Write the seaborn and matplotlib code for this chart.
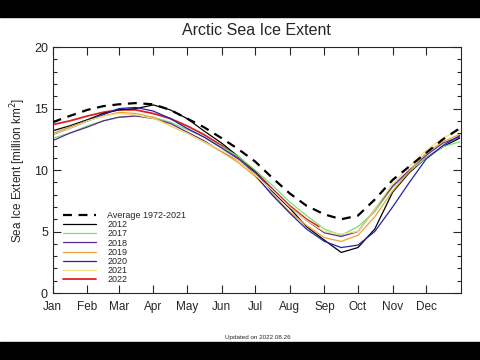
import numpy as np
import pandas as pd
import matplotlib.pyplot as plt
import matplotlib.patches as mpatches
import seaborn as sns

# day of year for the sampled points
days = [0, 15, 31, 45, 59, 74, 90, 105, 120, 135, 151, 166, 181,
        196, 212, 227, 243, 258, 273, 288, 304, 319, 334, 349, 364]

avg_1972_2021 = [13.9, 14.4, 14.9, 15.2, 15.35, 15.45, 15.35, 14.9, 14.2, 13.5, 12.6, 11.7, 10.7,
                 9.4, 8.1, 7.1, 6.4, 6.0, 6.3, 7.6, 9.2, 10.3, 11.4, 12.5, 13.4]
ext_2012 = [13.2, 13.6, 14.1, 14.6, 14.9, 15.0, 15.3, 14.9, 14.2, 13.2, 12.2, 11.1, 9.9,
            8.3, 6.9, 5.4, 4.3, 3.3, 3.7, 5.2, 8.2, 9.8, 11.0, 11.9, 12.6]
ext_2017 = [12.6, 13.0, 13.6, 14.0, 14.3, 14.4, 14.3, 13.9, 13.3, 12.7, 11.9, 11.1, 10.0,
            8.8, 7.4, 6.3, 5.2, 4.7, 5.4, 6.6, 8.6, 9.9, 11.0, 11.9, 12.3]
ext_2018 = [12.4, 13.0, 13.5, 14.0, 14.3, 14.4, 14.2, 13.8, 13.1, 12.4, 11.5, 10.8, 9.8,
            8.5, 7.0, 5.9, 4.9, 4.6, 5.0, 6.8, 8.7, 10.0, 11.2, 12.2, 12.7]
ext_2019 = [13.0, 13.5, 14.0, 14.4, 14.7, 14.6, 14.3, 13.6, 13.0, 12.3, 11.5, 10.6, 9.5,
            8.1, 6.6, 5.5, 4.5, 4.2, 4.7, 6.2, 8.3, 9.9, 11.4, 12.3, 12.9]
ext_2020 = [12.9, 13.4, 14.0, 14.5, 15.0, 15.1, 14.8, 14.2, 13.4, 12.7, 11.8, 10.9, 9.6,
            8.0, 6.5, 5.2, 4.2, 3.7, 3.9, 5.0, 7.0, 9.0, 10.9, 12.0, 12.8]
ext_2021 = [12.9, 13.4, 14.0, 14.4, 14.6, 14.5, 14.2, 13.6, 13.0, 12.3, 11.6, 10.8, 9.6,
            8.4, 7.0, 5.9, 5.0, 4.8, 5.0, 6.8, 8.9, 10.3, 11.6, 12.6, 13.3]
days_2022 = [0, 15, 31, 45, 59, 74, 90, 105, 120, 135, 151, 166, 181, 196, 212, 227, 238]
ext_2022 = [13.7, 14.0, 14.4, 14.7, 14.9, 14.9, 14.6, 14.2, 13.6, 12.9, 12.0, 11.0, 9.9,
            8.5, 7.1, 6.0, 5.4]

month_starts = [0, 31, 59, 90, 120, 151, 181, 212, 243, 273, 304, 334]
month_labels = ["Jan", "Feb", "Mar", "Apr", "May", "Jun",
                "Jul", "Aug", "Sep", "Oct", "Nov", "Dec"]

years = {
    "2012": (days, ext_2012, "black"),
    "2017": (days, ext_2017, "#77e077"),
    "2018": (days, ext_2018, "#5b2a8e"),
    "2019": (days, ext_2019, "#f0a030"),
    "2020": (days, ext_2020, "#2222aa"),
    "2021": (days, ext_2021, "#f2dc80"),
    "2022": (days_2022, ext_2022, "#e02020"),
}

sns.set_style("ticks")
plt.rcParams['font.family'] = ['Liberation Sans', 'DejaVu Sans']

fig = plt.figure(figsize=(4.8, 3.6), dpi=100)
ax = fig.add_axes([0.110, 0.186, 0.850, 0.683])

avg_df = pd.DataFrame({"day": days, "extent": avg_1972_2021})
sns.lineplot(data=avg_df, x="day", y="extent", ax=ax, color="black",
             linewidth=1.6, linestyle=(0, (4, 3)), label="Average 1972-2021", zorder=5)

for name, (d, v, c) in years.items():
    df = pd.DataFrame({"day": d, "extent": v})
    lw = 1.3 if name == "2022" else 0.9
    z = 1 if name == "2022" else 2
    sns.lineplot(data=df, x="day", y="extent", ax=ax, color=c,
                 linewidth=lw, label=name, zorder=z)

ax.set_xlim(0, 365)
ax.set_ylim(0, 20)
ax.set_xticks(month_starts)
ax.set_xticklabels(month_labels, fontsize=8.5)
ax.set_yticks([0, 5, 10, 15, 20])
ax.set_yticks(np.arange(0, 21, 1), minor=True)
ax.tick_params(axis="y", labelsize=9)
ax.tick_params(which="both", direction="in", top=True, right=True, width=0.8)
ax.tick_params(which="major", length=6)
ax.tick_params(which="minor", length=3)
ax.tick_params(axis="x", pad=6)
for s in ax.spines.values():
    s.set_linewidth(0.8)

ax.set_xlabel("")
ax.set_ylabel("Sea Ice Extent [million km$^2$]", fontsize=8.5, labelpad=4)
fig.text(0.535, 0.914, "Arctic Sea Ice Extent", ha="center", va="center", fontsize=11.5)

ax.legend(loc="lower left", frameon=False, fontsize=6.5, handlelength=3.6,
          handletextpad=1.3, labelspacing=0.02, bbox_to_anchor=(0.01, 0.01),
          borderaxespad=0.3)

fig.text(0.537, 0.062, "Updated on 2022.08.26", ha="center", va="center", fontsize=4.5)

# black bands of the video frame
fig.patches.append(mpatches.Rectangle((0, 0.953), 1, 0.047, transform=fig.transFigure,
                                      color="black", zorder=-1))
fig.patches.append(mpatches.Rectangle((0, 0), 1, 0.05, transform=fig.transFigure,
                                      color="black", zorder=-1))

fig.savefig("out.png", dpi=100)
